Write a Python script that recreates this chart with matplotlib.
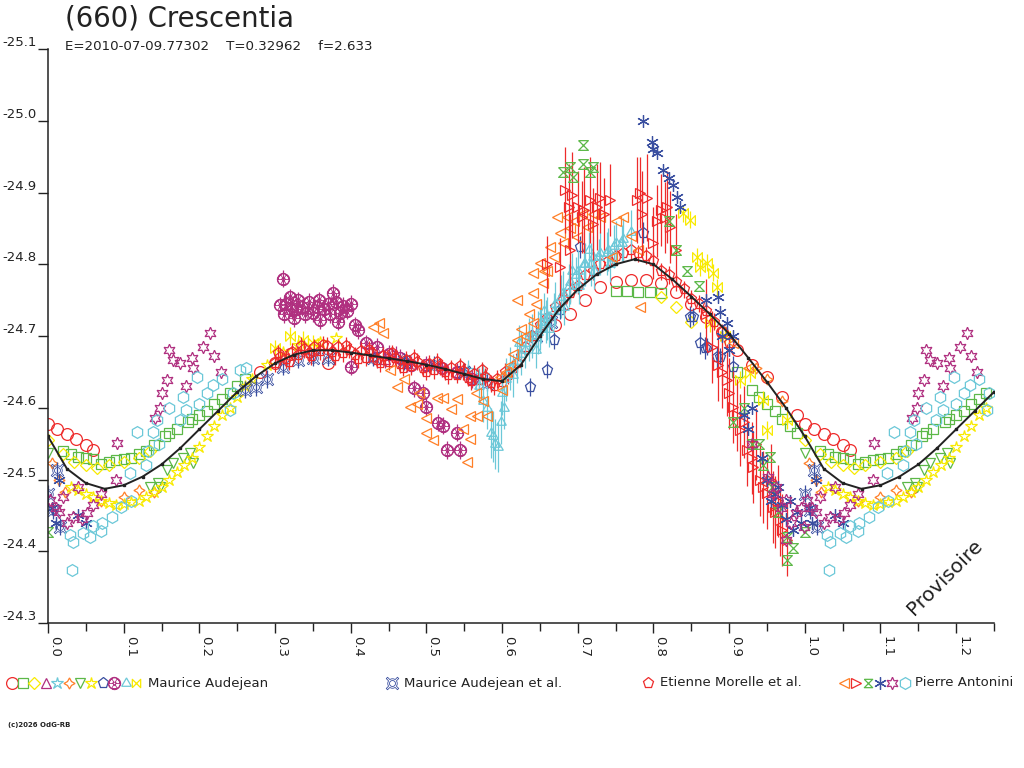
"""Lightcurve of (660) Crescentia, folded on the rotation period."""

import numpy as np
import matplotlib

matplotlib.use("Agg")
import matplotlib.pyplot as plt

plt.rcParams["font.family"] = ["DejaVu Sans"]
plt.rcParams["axes.unicode_minus"] = False

RED = "#ee2b2b"
GREEN = "#5cb848"
YELLOW = "#f8ea00"
PURPLE = "#b03080"
CYAN = "#6cc8d8"
ORANGE = "#ff7f27"
BLUE = "#3a4fa0"
INK = "#222222"

# Fourier fit (black curve), one period
FIT_PHASE = [0.000, 0.025, 0.050, 0.075, 0.100, 0.125, 0.150, 0.175, 0.200, 0.225,
             0.250, 0.275, 0.300, 0.325, 0.350, 0.375, 0.400, 0.425, 0.450, 0.475,
             0.500, 0.525, 0.550, 0.575, 0.600, 0.625, 0.650, 0.675, 0.700, 0.725,
             0.750, 0.775, 0.800, 0.825, 0.850, 0.875, 0.900, 0.925, 0.950, 0.975]
FIT_MAG = [-24.560, -24.515, -24.495, -24.487, -24.492, -24.504, -24.521, -24.544, -24.570, -24.596,
           -24.622, -24.644, -24.662, -24.674, -24.680, -24.680, -24.677, -24.673, -24.669, -24.665,
           -24.660, -24.654, -24.647, -24.640, -24.637, -24.660, -24.700, -24.737, -24.765, -24.786,
           -24.800, -24.807, -24.800, -24.779, -24.755, -24.730, -24.703, -24.670, -24.636, -24.600]

# --- Maurice Audejean (12 sessions) ---
ma_circle_phase = [0.000, 0.012, 0.025, 0.037, 0.050, 0.060, 0.28, 0.30, 0.32, 0.35, 0.37,
                   0.67, 0.69, 0.71, 0.73, 0.75, 0.77, 0.79, 0.81, 0.83, 0.85, 0.87, 0.89,
                   0.91, 0.93, 0.95, 0.97, 0.99]
ma_circle_mag = [-24.578, -24.570, -24.563, -24.556, -24.548, -24.541, -24.650, -24.662, -24.675,
                 -24.680, -24.662, -24.715, -24.730, -24.750, -24.768, -24.775, -24.778, -24.778,
                 -24.774, -24.762, -24.745, -24.727, -24.705, -24.680, -24.660, -24.643, -24.615,
                 -24.590]

ma_square_phase = [0.020, 0.040, 0.060, 0.080, 0.100, 0.120, 0.140, 0.155, 0.170, 0.185, 0.200,
                   0.220, 0.240, 0.260, 0.750, 0.765, 0.780, 0.795, 0.810, 0.930, 0.950, 0.970,
                   0.990, 0.030, 0.050, 0.070, 0.090, 0.110, 0.130, 0.160, 0.190, 0.210, 0.230,
                   0.250, 0.940, 0.960, 0.980, 0.910]
ma_square_mag = [-24.540, -24.531, -24.528, -24.525, -24.528, -24.535, -24.548, -24.560, -24.570,
                 -24.580, -24.590, -24.605, -24.620, -24.640, -24.763, -24.763, -24.762, -24.761,
                 -24.760, -24.625, -24.605, -24.585, -24.565, -24.535, -24.530, -24.522, -24.527,
                 -24.530, -24.540, -24.565, -24.585, -24.595, -24.612, -24.630, -24.615, -24.595,
                 -24.575, -24.650]

ma_diamond_phase = [0.000, 0.020, 0.035, 0.050, 0.065, 0.080, 0.100, 0.120, 0.135, 0.810, 0.830,
                    0.850]
ma_diamond_mag = [-24.555, -24.535, -24.525, -24.520, -24.516, -24.520, -24.525, -24.530,
                  -24.540, -24.755, -24.740, -24.720]

ma_tri_phase = [0.430, 0.445, 0.460, 0.475]
ma_tri_mag = [-24.672, -24.668, -24.674, -24.662]

ma_star_phase = [0.555, 0.565, 0.575]
ma_star_mag = [-24.652, -24.640, -24.646]

ma_star4_phase = [0.005, 0.015, 0.022, 0.070, 0.100, 0.120, 0.140, 0.935, 0.950, 0.970]
ma_star4_mag = [-24.523, -24.499, -24.482, -24.470, -24.476, -24.485, -24.482, -24.655,
                -24.640, -24.610]

ma_tridown_phase = [0.000, 0.135, 0.148, 0.157, 0.165, 0.188, 0.192, 0.145, 0.178]
ma_tridown_mag = [-24.537, -24.490, -24.490, -24.513, -24.523, -24.537, -24.523, -24.495,
                  -24.530]

ma_star5_phase = [0.030, 0.050, 0.070, 0.090, 0.110, 0.130, 0.150, 0.170, 0.190, 0.210, 0.230,
                  0.250, 0.270, 0.290, 0.310, 0.330, 0.360, 0.380, 0.040, 0.060, 0.080, 0.100,
                  0.120, 0.140, 0.160, 0.180, 0.200, 0.220, 0.240, 0.260]
ma_star5_mag = [-24.490, -24.480, -24.470, -24.465, -24.468, -24.475, -24.490, -24.510, -24.530,
                -24.560, -24.590, -24.615, -24.640, -24.660, -24.678, -24.688, -24.692, -24.697,
                -24.485, -24.475, -24.467, -24.466, -24.470, -24.482, -24.500, -24.520, -24.545,
                -24.575, -24.600, -24.630]

ma_pent_phase = [0.637, 0.660, 0.668, 0.677, 0.703, 0.786, 0.848, 0.852, 0.862, 0.868, 0.871,
                 0.884, 0.888, 0.905]
ma_pent_mag = [-24.629, -24.653, -24.694, -24.736, -24.824, -24.844, -24.727, -24.727, -24.690,
               -24.683, -24.685, -24.671, -24.671, -24.657]
ma_pent_err = [0.012, 0.012, 0.012, 0.012, 0.015, 0.015, 0.015, 0.012, 0.015, 0.015, 0.012,
               0.015, 0.012, 0.015]

ma_trefoil_phase = [0.310, 0.320, 0.307, 0.322, 0.336, 0.350, 0.370, 0.377, 0.386, 0.400, 0.360,
                    0.383, 0.405, 0.410, 0.340, 0.345, 0.365, 0.390, 0.420, 0.435, 0.450, 0.465,
                    0.480, 0.500, 0.520, 0.540, 0.560, 0.483, 0.496, 0.500, 0.515, 0.522, 0.540,
                    0.527, 0.545, 0.400, 0.315, 0.328, 0.330, 0.355, 0.372, 0.380, 0.395, 0.312,
                    0.325, 0.358]
ma_trefoil_mag = [-24.780, -24.754, -24.743, -24.736, -24.740, -24.732, -24.745, -24.760,
                  -24.732, -24.745, -24.722, -24.720, -24.715, -24.708, -24.730, -24.748,
                  -24.738, -24.742, -24.690, -24.685, -24.675, -24.670, -24.660, -24.660,
                  -24.655, -24.650, -24.640, -24.627, -24.621, -24.601, -24.579, -24.575,
                  -24.565, -24.541, -24.541, -24.657, -24.745, -24.738, -24.750, -24.740,
                  -24.730, -24.748, -24.735, -24.730, -24.725, -24.750]

ma_tristar_phase = [0.570, 0.580, 0.585, 0.590, 0.595, 0.600, 0.605, 0.610, 0.620, 0.630, 0.640,
                    0.650, 0.660, 0.670, 0.680, 0.690, 0.700, 0.710, 0.720, 0.730, 0.740, 0.750,
                    0.760, 0.770, 0.645, 0.662, 0.682, 0.702, 0.722, 0.742, 0.622, 0.655, 0.692,
                    0.715, 0.598, 0.575, 0.588, 0.602, 0.615, 0.625, 0.635, 0.648, 0.658, 0.668,
                    0.678, 0.688, 0.698, 0.708, 0.718, 0.728, 0.738, 0.748, 0.758, 0.636, 0.652]
ma_tristar_mag = [-24.630, -24.600, -24.565, -24.550, -24.545, -24.620, -24.640, -24.655, -24.665,
                  -24.680, -24.700, -24.710, -24.725, -24.745, -24.760, -24.775, -24.790, -24.800,
                  -24.810, -24.815, -24.820, -24.830, -24.835, -24.845, -24.680, -24.710, -24.740,
                  -24.770, -24.790, -24.800, -24.690, -24.735, -24.790, -24.820, -24.580, -24.610,
                  -24.560, -24.600, -24.645, -24.675, -24.690, -24.705, -24.720, -24.735, -24.755,
                  -24.770, -24.785, -24.800, -24.800, -24.810, -24.815, -24.825, -24.830, -24.700,
                  -24.720]
ma_tristar_err = [0.025, 0.030, 0.035, 0.035, 0.035, 0.030, 0.030, 0.030, 0.030, 0.025, 0.030,
                  0.030, 0.030, 0.030, 0.030, 0.030, 0.030, 0.030, 0.030, 0.030, 0.030, 0.030,
                  0.030, 0.030, 0.025, 0.025, 0.025, 0.025, 0.025, 0.025, 0.025, 0.025, 0.025,
                  0.025, 0.030, 0.030, 0.035, 0.030, 0.030, 0.030, 0.025, 0.030, 0.030, 0.025,
                  0.030, 0.030, 0.025, 0.030, 0.030, 0.025, 0.030, 0.030, 0.025, 0.025, 0.030]

ma_bowtie_phase = [0.839, 0.848, 0.858, 0.862, 0.871, 0.879, 0.884, 0.875, 0.895, 0.914, 0.928,
                   0.945, 0.950, 0.977, 0.320, 0.337, 0.350, 0.300]
ma_bowtie_mag = [-24.871, -24.862, -24.810, -24.796, -24.802, -24.788, -24.768, -24.718,
                 -24.700, -24.639, -24.648, -24.611, -24.569, -24.583, -24.700, -24.695,
                 -24.690, -24.683]

# --- Maurice Audejean et al. ---
mae_phase = [0.000, 0.007, 0.016, 0.012, 0.260, 0.275, 0.290, 0.310, 0.330, 0.350, 0.370, 0.430,
             0.470, 0.510, 0.550, 0.580, 0.645, 0.665]
mae_mag = [-24.480, -24.457, -24.434, -24.513, -24.625, -24.629, -24.640, -24.657, -24.667,
           -24.670, -24.670, -24.670, -24.665, -24.660, -24.650, -24.635, -24.700, -24.720]

# --- Etienne Morelle et al. ---
em_phase = [0.300, 0.307, 0.315, 0.322, 0.330, 0.338, 0.345, 0.352, 0.360, 0.368, 0.375, 0.383,
            0.390, 0.398, 0.405, 0.413, 0.420, 0.428, 0.435, 0.443, 0.450, 0.458, 0.465, 0.473,
            0.480, 0.488, 0.495, 0.503, 0.510, 0.518, 0.525, 0.533, 0.540, 0.548, 0.555, 0.563,
            0.570, 0.578, 0.585, 0.593, 0.600, 0.608, 0.615, 0.625, 0.640, 0.660, 0.680, 0.700,
            0.720, 0.740, 0.760, 0.780, 0.800, 0.820, 0.840, 0.860, 0.880, 0.900,
            0.304, 0.318, 0.334, 0.348, 0.364, 0.379, 0.394, 0.409, 0.424, 0.439, 0.454, 0.469,
            0.484, 0.499, 0.514, 0.529, 0.544, 0.559, 0.574, 0.589, 0.604, 0.620,
            0.630, 0.650, 0.670, 0.690, 0.710, 0.730, 0.750, 0.770, 0.790, 0.810, 0.830, 0.850,
            0.870, 0.890]
em_mag = [-24.662, -24.671, -24.668, -24.678, -24.674, -24.682, -24.676, -24.684, -24.679,
          -24.686, -24.678, -24.684, -24.676, -24.681, -24.673, -24.679, -24.670, -24.676,
          -24.667, -24.672, -24.664, -24.670, -24.661, -24.667, -24.658, -24.664, -24.656,
          -24.661, -24.652, -24.658, -24.650, -24.655, -24.646, -24.651, -24.642, -24.647,
          -24.638, -24.643, -24.634, -24.640, -24.636, -24.645, -24.655, -24.672, -24.700,
          -24.725, -24.750, -24.770, -24.790, -24.805, -24.815, -24.815, -24.805, -24.785,
          -24.765, -24.745, -24.720, -24.690,
          -24.676, -24.664, -24.686, -24.672, -24.688, -24.672, -24.686, -24.668, -24.681,
          -24.662, -24.676, -24.656, -24.670, -24.650, -24.664, -24.645, -24.658, -24.637,
          -24.652, -24.630, -24.650, -24.662,
          -24.685, -24.715, -24.740, -24.760, -24.785, -24.800, -24.812, -24.820, -24.812,
          -24.790, -24.775, -24.752, -24.735, -24.705]
EM_ERR = 0.012

# --- Pierre Antonini (6 sessions) ---
pa_left_phase = [0.438, 0.429, 0.442, 0.452, 0.461, 0.478, 0.487, 0.500, 0.514, 0.522, 0.541,
                 0.532, 0.500, 0.509, 0.558, 0.567, 0.580, 0.549, 0.558, 0.554, 0.470, 0.490,
                 0.565, 0.575, 0.597, 0.620, 0.641, 0.641, 0.650, 0.663, 0.672, 0.686, 0.676,
                 0.699, 0.712, 0.730, 0.760, 0.641, 0.654, 0.620, 0.610, 0.630, 0.660, 0.690,
                 0.600, 0.615, 0.745, 0.782, 0.905, 0.925, 0.605, 0.625, 0.635, 0.645, 0.655,
                 0.668, 0.680, 0.695, 0.705, 0.720, 0.750, 0.770, 0.780]
pa_left_mag = [-24.718, -24.713, -24.704, -24.653, -24.629, -24.601, -24.605, -24.586, -24.614,
               -24.614, -24.612, -24.598, -24.565, -24.555, -24.588, -24.588, -24.588, -24.571,
               -24.556, -24.524, -24.640, -24.620, -24.620, -24.610, -24.643, -24.694, -24.718,
               -24.788, -24.802, -24.824, -24.866, -24.866, -24.844, -24.838, -24.852, -24.866,
               -24.866, -24.760, -24.774, -24.750, -24.660, -24.700, -24.790, -24.850, -24.625,
               -24.675, -24.810, -24.740, -24.690, -24.655, -24.650, -24.710, -24.730, -24.745,
               -24.790, -24.810, -24.830, -24.860, -24.870, -24.870, -24.860, -24.840, -24.820]

pa_right_phase = [0.683, 0.692, 0.700, 0.716, 0.730, 0.742, 0.705, 0.720, 0.676, 0.690, 0.660,
                  0.778, 0.791, 0.782, 0.810, 0.818, 0.822, 0.800, 0.830, 0.870, 0.878, 0.897,
                  0.905, 0.914, 0.924, 0.932, 0.941, 0.950, 0.958, 0.967, 0.976, 0.920, 0.935,
                  0.955, 0.885, 0.965, 0.890, 0.900, 0.910, 0.930, 0.945, 0.960, 0.970, 0.688,
                  0.708, 0.725, 0.735, 0.785, 0.805, 0.815]
pa_right_mag = [-24.903, -24.896, -24.880, -24.890, -24.893, -24.890, -24.866, -24.856, -24.796,
                -24.820, -24.800, -24.890, -24.893, -24.900, -24.876, -24.880, -24.852, -24.830,
                -24.820, -24.730, -24.685, -24.639, -24.601, -24.569, -24.541, -24.517, -24.499,
                -24.481, -24.462, -24.444, -24.416, -24.580, -24.550, -24.500, -24.660, -24.470,
                -24.650, -24.620, -24.590, -24.530, -24.490, -24.455, -24.430, -24.880, -24.875,
                -24.880, -24.870, -24.870, -24.860, -24.865]
pa_right_err = [0.06, 0.06, 0.05, 0.06, 0.05, 0.05, 0.05, 0.05, 0.04, 0.05, 0.04,
                0.06, 0.06, 0.05, 0.05, 0.05, 0.05, 0.05, 0.05, 0.05, 0.05, 0.05,
                0.05, 0.05, 0.05, 0.05, 0.05, 0.05, 0.05, 0.05, 0.05, 0.05, 0.05,
                0.05, 0.05, 0.05, 0.05, 0.05, 0.05, 0.05, 0.05, 0.05, 0.05, 0.06,
                0.06, 0.06, 0.05, 0.06, 0.05, 0.05]

pa_hour_phase = [0.707, 0.690, 0.707, 0.680, 0.716, 0.694, 0.720, 0.820, 0.830, 0.845, 0.860,
                 0.930, 0.945, 0.956, 0.965, 0.977, 0.977, 0.985, 0.000, 0.905, 0.920, 0.940,
                 0.954]
pa_hour_mag = [-24.966, -24.936, -24.940, -24.929, -24.929, -24.922, -24.935, -24.860, -24.820,
               -24.790, -24.770, -24.550, -24.520, -24.490, -24.455, -24.420, -24.388, -24.405,
               -24.427, -24.580, -24.600, -24.550, -24.531]

pa_aster_phase = [0.786, 0.798, 0.805, 0.813, 0.826, 0.831, 0.835, 0.820, 0.800, 0.885, 0.888,
                  0.897, 0.870, 0.905, 0.944, 0.950, 0.960, 0.970, 0.980, 0.990, 0.975, 0.995,
                  0.005, 0.010, 0.015, 0.040, 0.050, 0.930, 0.925, 0.955, 0.965, 0.985, 0.920,
                  0.900, 0.890]
pa_aster_mag = [-25.000, -24.971, -24.955, -24.931, -24.910, -24.894, -24.880, -24.920, -24.960,
                -24.754, -24.733, -24.718, -24.750, -24.700, -24.530, -24.500, -24.480, -24.465,
                -24.470, -24.455, -24.445, -24.440, -24.460, -24.440, -24.500, -24.450, -24.440,
                -24.600, -24.570, -24.470, -24.490, -24.430, -24.590, -24.680, -24.700]

pa_hexstar_phase = [0.165, 0.175, 0.157, 0.192, 0.205, 0.214, 0.220, 0.150, 0.183, 0.228, 0.148,
                    0.160, 0.190, 0.003, 0.010, 0.033, 0.052, 0.070, 0.090, 0.091, 0.141, 0.040,
                    0.020, 0.952, 0.975, 0.988, 0.999, 0.975, 0.930, 0.962, 0.958, 0.968, 0.982,
                    0.995, 0.015, 0.025, 0.045, 0.060]
pa_hexstar_mag = [-24.667, -24.663, -24.639, -24.656, -24.685, -24.704, -24.672, -24.621, -24.630,
                  -24.650, -24.600, -24.680, -24.670, -24.471, -24.460, -24.448, -24.453, -24.480,
                  -24.500, -24.551, -24.586, -24.490, -24.475, -24.503, -24.471, -24.453, -24.434,
                  -24.416, -24.550, -24.490, -24.480, -24.460, -24.440, -24.460, -24.455, -24.440,
                  -24.445, -24.465]

pa_hex_phase = [0.029, 0.046, 0.033, 0.055, 0.070, 0.072, 0.085, 0.097, 0.110, 0.032, 0.060,
                0.118, 0.139, 0.144, 0.174, 0.178, 0.183, 0.197, 0.218, 0.210, 0.244, 0.254,
                0.241, 0.108, 0.130, 0.132, 0.160, 0.200, 0.230, 0.262, 0.147]
pa_hex_mag = [-24.423, -24.425, -24.413, -24.420, -24.428, -24.440, -24.448, -24.462, -24.470,
              -24.374, -24.435, -24.566, -24.566, -24.583, -24.583, -24.615, -24.597, -24.643,
              -24.632, -24.620, -24.620, -24.653, -24.597, -24.509, -24.520, -24.540, -24.600,
              -24.605, -24.640, -24.655, -24.550]

X_TICKS = np.round(np.arange(0.0, 1.21, 0.1), 1)
Y_TICKS = [-25.1, -25.0, -24.9, -24.8, -24.7, -24.6, -24.5, -24.4, -24.3]

BOWTIE = [(-1, -1), (-1, 1), (1, -1), (1, 1), (-1, -1)]
HOURGLASS = [(-1, 1), (1, 1), (-1, -1), (1, -1), (-1, 1)]


def fold(values, phase):
    """Repeat the first quarter of the period after phase 1.0."""
    values = np.asarray(values, dtype=float)
    phase = np.asarray(phase, dtype=float)
    return np.concatenate([values, values[phase < 0.25]])


def draw(ax, phase, mag, marker, color, err=None, ms=7.0, text=False):
    ph = np.asarray(phase, dtype=float)
    xs = np.concatenate([ph, ph[ph < 0.25] + 1.0])
    ys = fold(mag, ph)
    if err is not None:
        e = np.broadcast_to(np.asarray(err, dtype=float), ph.shape)
        ax.errorbar(xs, ys, yerr=fold(e, ph), fmt="none", ecolor=color, elinewidth=0.9)
    ax.plot(xs, ys, ls="none", marker=marker, ms=ms, mfc="none", mec=color,
            mew=0.6 if text else 0.9)


fig = plt.figure(figsize=(10.24, 7.68), dpi=100)

# legend / annotation layer in pixel units
lax = fig.add_axes([0, 0, 1, 1])
lax.set_xlim(0, 1024)
lax.set_ylim(768, 0)
lax.axis("off")

ax = fig.add_axes([48 / 1024, 145 / 768, 946 / 1024, 574 / 768])
ax.patch.set_alpha(0)

series = [
    (ma_circle_phase, ma_circle_mag, "o", RED, None, 8.5, False),
    (ma_square_phase, ma_square_mag, "s", GREEN, None, 7, False),
    (ma_diamond_phase, ma_diamond_mag, "D", YELLOW, None, 6.5, False),
    (ma_tri_phase, ma_tri_mag, "^", PURPLE, 0.012, 7, False),
    (ma_star_phase, ma_star_mag, "*", CYAN, 0.015, 9, False),
    (ma_star4_phase, ma_star4_mag, (4, 1, 0), ORANGE, None, 8, False),
    (ma_tridown_phase, ma_tridown_mag, "v", GREEN, None, 7, False),
    (ma_star5_phase, ma_star5_mag, "*", YELLOW, None, 9, False),
    (ma_pent_phase, ma_pent_mag, "p", BLUE, ma_pent_err, 8, False),
    (ma_trefoil_phase, ma_trefoil_mag, "$\u2622$", PURPLE, 0.012, 9, True),
    (ma_bowtie_phase, ma_bowtie_mag, BOWTIE, YELLOW, 0.012, 7, False),
    (mae_phase, mae_mag, "$\u00a4$", BLUE, 0.012, 9, True),
    (em_phase, em_mag, "p", RED, EM_ERR, 8, False),
    (ma_tristar_phase, ma_tristar_mag, (3, 1, 0), CYAN, ma_tristar_err, 8, False),
    (pa_left_phase, pa_left_mag, "<", ORANGE, None, 7.5, False),
    (pa_right_phase, pa_right_mag, ">", RED, pa_right_err, 7.5, False),
    (pa_hour_phase, pa_hour_mag, HOURGLASS, GREEN, None, 7, False),
    (pa_aster_phase, pa_aster_mag, (6, 2, 0), BLUE, None, 9, False),
    (pa_hexstar_phase, pa_hexstar_mag, (6, 1, 0), PURPLE, None, 9, False),
    (pa_hex_phase, pa_hex_mag, "h", CYAN, None, 8.5, False),
]
for ph, mg, mk, col, err, ms, txt in series:
    draw(ax, ph, mg, mk, col, err=err, ms=ms, text=txt)

fit_x = np.concatenate([FIT_PHASE, [p + 1 for p in FIT_PHASE if p <= 0.25]])
fit_y = np.concatenate([FIT_MAG, [m for p, m in zip(FIT_PHASE, FIT_MAG) if p <= 0.25]])
ax.plot(fit_x, fit_y, color=INK, lw=1.4, marker="s", ms=1.6, zorder=5)

ax.set_xlim(0, 1.25)
ax.set_ylim(-24.3, -25.1)
ax.set_xticks(X_TICKS)
ax.set_xticks(np.arange(0.05, 1.26, 0.1), minor=True)
ax.set_xticklabels([f"{t:.1f}" for t in X_TICKS], rotation=-90, ha="left", va="top",
                   fontsize=9.5, color=INK)
ax.set_yticks(Y_TICKS)
ax.set_yticklabels([f"{t:.1f}" for t in Y_TICKS], va="bottom", fontsize=9.5, color=INK)
ax.tick_params(axis="x", which="major", direction="out", length=7, width=1, color=INK, pad=2)
ax.tick_params(axis="x", which="minor", direction="out", length=6, width=1, color=INK)
ax.tick_params(axis="y", direction="out", length=7, width=1, color=INK, pad=1)
for side in ("top", "right"):
    ax.spines[side].set_visible(False)
for side in ("left", "bottom"):
    ax.spines[side].set_color(INK)
    ax.spines[side].set_linewidth(1.1)

lax.text(65, 18, "(660) Crescentia", fontsize=19.8, color=INK, va="center", ha="left")
lax.text(65, 47, "E=2010-07-09.77302    T=0.32962    f=2.633", fontsize=9.6, color=INK,
         va="center", ha="left")
lax.text(945, 577, "Provisoire", fontsize=14.5, color=INK, rotation=45, ha="center",
         va="center")
lax.text(8, 725, "(c)2026 OdG-RB", fontsize=5, color=INK, va="center", ha="left",
         fontweight="bold")

# legend row
leg_y = 683
legend_groups = [
    ([(12, "o", RED, 8.5, False), (23, "s", GREEN, 7, False), (34, "D", YELLOW, 6.5, False),
      (46, "^", PURPLE, 7, False), (57, "*", CYAN, 9, False), (69, (4, 1, 0), ORANGE, 8, False),
      (80, "v", GREEN, 7, False), (91, "*", YELLOW, 9, False), (103, "p", BLUE, 8, False),
      (114, "$\u2622$", PURPLE, 9, True), (126, (3, 1, 0), CYAN, 8, False),
      (136, BOWTIE, YELLOW, 6, False)], 148, "Maurice Audejean"),
    ([(392, "$\u00a4$", BLUE, 9, True)], 404, "Maurice Audejean et al."),
    ([(648, "p", RED, 8, False)], 660, "Etienne Morelle et al."),
    ([(844, "<", ORANGE, 7.5, False), (856, ">", RED, 7.5, False),
      (868, HOURGLASS, GREEN, 6, False), (880, (6, 2, 0), BLUE, 9, False),
      (892, (6, 1, 0), PURPLE, 9, False), (905, "h", CYAN, 8.5, False)], 915, "Pierre Antonini"),
]
for marks, tx, label in legend_groups:
    for mx, mk, col, ms, txt in marks:
        lax.plot([mx], [leg_y], marker=mk, ms=ms, mfc="none", mec=col,
                 mew=0.6 if txt else 0.9, ls="none")
    lax.text(tx, leg_y, label, fontsize=9.5, color=INK, va="center", ha="left")

fig.savefig("out.png", dpi=100)
